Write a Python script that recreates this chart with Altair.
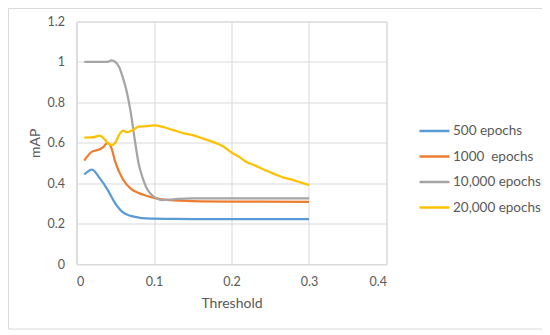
import altair as alt
import pandas as pd

series_names = ["500 epochs", "1000\u00a0 epochs", "10,000 epochs", "20,000 epochs"]
series_colors = ["#5B9BD5", "#ED7D31", "#A5A5A5", "#FFC000"]

x_500 = [0.01, 0.02, 0.03, 0.04, 0.05, 0.06, 0.07, 0.08, 0.09, 0.10, 0.12, 0.15, 0.20, 0.25, 0.30]
y_500 = [0.443, 0.467, 0.425, 0.368, 0.300, 0.255, 0.238, 0.230, 0.226, 0.224, 0.223, 0.222, 0.222, 0.222, 0.222]

x_1000 = [0.01, 0.02, 0.03, 0.035, 0.04, 0.045, 0.05, 0.06, 0.07, 0.08, 0.09, 0.10, 0.11, 0.12, 0.15, 0.20, 0.30]
y_1000 = [0.512, 0.556, 0.568, 0.580, 0.600, 0.575, 0.505, 0.418, 0.373, 0.352, 0.338, 0.327, 0.320, 0.316, 0.311, 0.309, 0.308]

x_10000 = [0.01, 0.02, 0.03, 0.04, 0.045, 0.05, 0.055, 0.06, 0.065, 0.07, 0.075, 0.08, 0.085, 0.09,
           0.095, 0.10, 0.105, 0.11, 0.12, 0.13, 0.15, 0.20, 0.30]
y_10000 = [1.0, 1.0, 1.0, 1.0, 1.008, 1.0, 0.975, 0.92, 0.85, 0.75, 0.62, 0.50, 0.43, 0.38,
           0.35, 0.332, 0.322, 0.316, 0.318, 0.322, 0.325, 0.325, 0.325]

x_20000 = [0.01, 0.02, 0.03, 0.035, 0.04, 0.045, 0.05, 0.055, 0.06, 0.065, 0.07, 0.075, 0.08, 0.09,
           0.10, 0.11, 0.12, 0.13, 0.14, 0.15, 0.16, 0.17, 0.18, 0.19, 0.20, 0.21, 0.22, 0.23,
           0.24, 0.25, 0.26, 0.27, 0.28, 0.29, 0.30]
y_20000 = [0.625, 0.626, 0.635, 0.622, 0.600, 0.588, 0.600, 0.640, 0.660, 0.652, 0.658, 0.668, 0.680, 0.682,
           0.686, 0.680, 0.668, 0.657, 0.645, 0.638, 0.625, 0.612, 0.598, 0.580, 0.552, 0.530, 0.503, 0.488,
           0.470, 0.454, 0.438, 0.425, 0.415, 0.403, 0.391]

x_ticks = [0, 0.1, 0.2, 0.3, 0.4]
y_ticks = [0, 0.2, 0.4, 0.6, 0.8, 1.0, 1.2]

rows = []
for name, xs, ys in zip(series_names,
                        [x_500, x_1000, x_10000, x_20000],
                        [y_500, y_1000, y_10000, y_20000]):
    for i, (xv, yv) in enumerate(zip(xs, ys)):
        rows.append({"series": name, "Threshold": xv, "mAP": yv, "order": i})
df = pd.DataFrame(rows)

FONT = "Lato"
TXT = "#595959"
GRID = "#D9D9D9"

W, H = 310, 242.5

border = alt.Chart(alt.Data(values=[{}])).mark_rect(
    fillOpacity=0, stroke=GRID, strokeWidth=1
).encode(
    x=alt.value(-68), x2=alt.value(W + 156), y=alt.value(-13), y2=alt.value(H + 65)
)

lines = alt.Chart(df).mark_line(strokeWidth=2.25, interpolate="monotone").encode(
    x=alt.X("Threshold:Q",
            scale=alt.Scale(domain=[0, 0.4], nice=False),
            axis=alt.Axis(values=x_ticks, title="Threshold", grid=True, ticks=False, tickSize=0,
                          format="~g",
                          labelPadding=11, titleY=39, titleBaseline="middle",
                          domainColor=GRID, gridColor=GRID, labelFontSize=12.5,
                          titleFontSize=14, titleFontWeight="normal")),
    y=alt.Y("mAP:Q",
            scale=alt.Scale(domain=[0, 1.2], nice=False),
            axis=alt.Axis(values=y_ticks, title="mAP", grid=True, ticks=False, tickSize=0,
                          format="~g",
                          labelPadding=12, titleX=-41.5, titleY=H / 2, titleAngle=-90,
                          titleAlign="center", titleBaseline="middle",
                          domainColor=GRID, gridColor=GRID, labelFontSize=12.5,
                          titleFontSize=14, titleFontWeight="normal")),
    color=alt.Color("series:N",
                    scale=alt.Scale(domain=series_names, range=series_colors),
                    sort=series_names,
                    legend=alt.Legend(title=None, orient="none", legendX=341.5, legendY=93,
                                      symbolType="stroke", symbolSize=900, symbolStrokeWidth=2.5,
                                      labelFontSize=13.5, labelOffset=2, rowPadding=2.5, padding=0)),
    order="order:Q",
)

chart = alt.layer(border, lines).properties(
    width=W, height=H,
    autosize=alt.AutoSizeParams(type="none"),
    padding={"left": 68.5, "top": 13.5, "right": 155.5, "bottom": 68},
).configure(
    font=FONT,
).configure_axis(
    labelColor=TXT, titleColor=TXT, labelFont=FONT, titleFont=FONT, gridWidth=1, domainWidth=1,
).configure_legend(
    labelColor=TXT, labelFont=FONT,
).configure_view(
    stroke=GRID,
)

chart.save("out.html", embed_options={"renderer": "svg", "actions": False})
